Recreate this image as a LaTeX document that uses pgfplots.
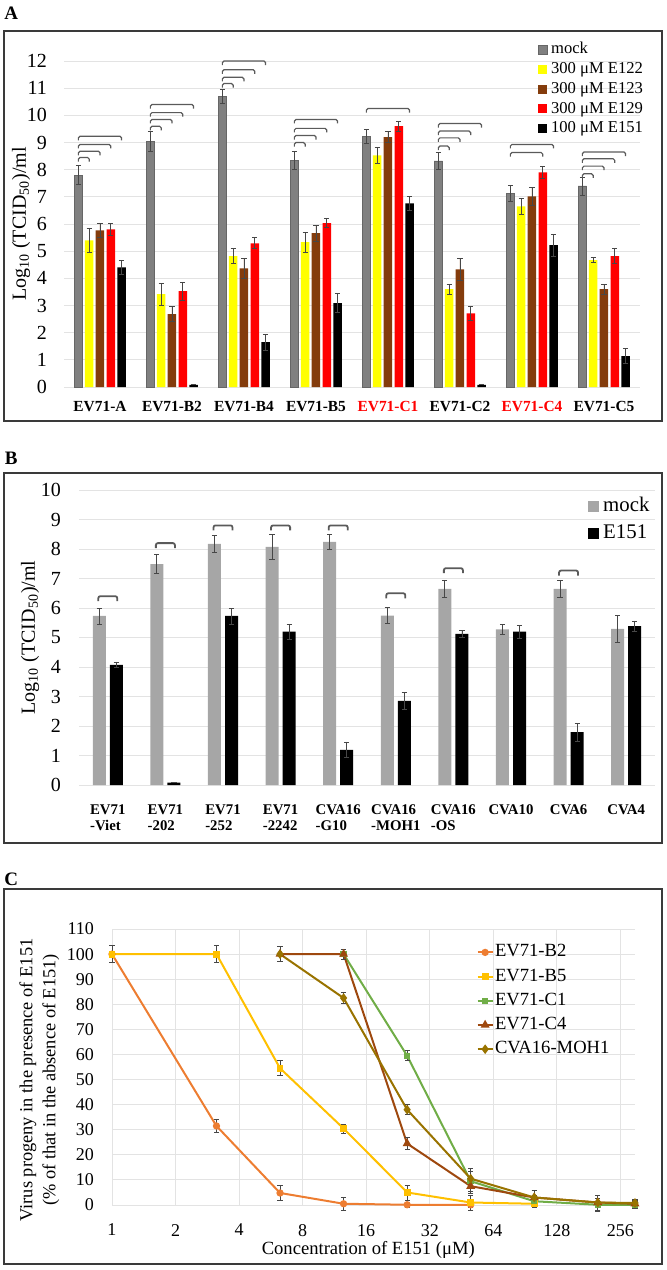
\documentclass[border=0pt]{standalone}
\usepackage{fontspec}
\setmainfont{Liberation Serif}
\usepackage{pgfplots}
\usepackage{pgfplotstable}
\pgfplotsset{compat=1.18}

\definecolor{gridc}{HTML}{E3E3E3}
\definecolor{framec}{HTML}{3A3A3A}
\definecolor{brkc}{HTML}{5A5A5A}
\definecolor{errc}{HTML}{474747}
\definecolor{mockA}{HTML}{808080}
\definecolor{yelA}{HTML}{FFFF00}
\definecolor{brnA}{HTML}{843C0C}
\definecolor{redA}{HTML}{FF0000}
\definecolor{mockB}{HTML}{A6A6A6}
\definecolor{cBtwo}{HTML}{ED7D31}
\definecolor{cBfive}{HTML}{FFC000}
\definecolor{cCone}{HTML}{70AD47}
\definecolor{cCfour}{HTML}{9E480E}
\definecolor{cMOH}{HTML}{997300}

% ---- panel A: x  y  err
\pgfplotstableread{
x y e
0 7.80 0.35
1 9.04 0.37
2 10.70 0.25
3 8.35 0.33
4 9.22 0.26
5 8.32 0.30
6 7.12 0.30
7 7.40 0.33
}\Amock
\pgfplotstableread{
x y e
0 5.40 0.45
1 3.42 0.40
2 4.82 0.28
3 5.33 0.36
4 8.53 0.30
5 3.60 0.18
6 6.65 0.30
7 4.67 0.10
}\Aonetwotwo
\pgfplotstableread{
x y e
0 5.77 0.27
1 2.68 0.27
2 4.37 0.37
3 5.66 0.30
4 9.20 0.20
5 4.33 0.40
6 7.02 0.33
7 3.60 0.18
}\Aonetwothree
\pgfplotstableread{
x y e
0 5.80 0.22
1 3.53 0.33
2 5.29 0.20
3 6.03 0.17
4 9.60 0.18
5 2.71 0.27
6 7.90 0.23
7 4.82 0.27
}\Aonetwonine
\pgfplotstableread{
x y e
0 4.40 0.27
1 0.08 0.00
2 1.65 0.30
3 3.09 0.36
4 6.76 0.26
5 0.08 0.00
6 5.22 0.40
7 1.14 0.27
}\Aonefiveone

% ---- panel B
\pgfplotstableread{
x y e
0 5.73 0.27
1 7.49 0.33
2 8.17 0.30
3 8.07 0.43
4 8.24 0.25
5 5.74 0.27
6 6.65 0.30
7 5.28 0.18
8 6.65 0.30
9 5.29 0.45
}\Bmock
\pgfplotstableread{
x y e
0 4.07 0.10
1 0.08 0.00
2 5.73 0.27
3 5.20 0.25
4 1.19 0.27
5 2.85 0.30
6 5.12 0.12
7 5.20 0.22
8 1.79 0.30
9 5.39 0.17
}\Bel

% ---- panel C: concentration, percent, err
\pgfplotstableread{
x y e
1 100 3.5
3.125 31.5 2.5
6.25 4.8 3
12.5 0.5 2.5
25 0.1 1
50 0.1 1
}\Ctwo
\pgfplotstableread{
x y e
1 100 3.5
3.125 100 3.5
6.25 54.5 3
12.5 30.5 1.8
25 5 3
50 1 3
100 0.5 0.5
}\Cfive
\pgfplotstableread{
x y e
12.5 100 2
25 59.5 2
50 9.5 4
100 1.5 2.5
200 0.1 2.5
300 0.1 1.5
}\Cone
\pgfplotstableread{
x y e
6.25 100 3
12.5 100 2
25 24.5 2.5
50 7.5 3
100 3 3
200 1 3
300 0.5 1.5
}\Cfour
\pgfplotstableread{
x y e
6.25 100 3
12.5 82.5 2.2
25 38 2
50 10.5 4
100 3 3
200 1 3
300 0.8 1.5
}\Cmoh

\pgfplotsset{
  panel/.style={scale only axis, clip=false, axis line style={draw=none},
    major tick length=0pt, ymajorgrids, grid style={gridc, line width=0.5pt},
    /pgf/number format/assume math mode=true, legend cell align=left},
  errs/.style={error bars/.cd, y dir=both, y explicit,
    error bar style={draw=errc, line width=0.4pt},
    error mark options={rotate=90, draw=errc, line width=0.4pt, mark size=1.3pt}},
  sqA/.style={legend image code/.code={\fill[##1] (0pt,-2.25pt) rectangle (4.5pt,2.25pt); \path (6.5pt,0pt);}},
  sqB/.style={legend image code/.code={\fill[##1] (0pt,-2.75pt) rectangle (5.5pt,2.75pt); \path (7.5pt,0pt);}},
  lnC/.style={legend image code/.code={\draw[mark repeat=2, mark phase=2, ##1] plot coordinates {(0pt,0pt) (3.75pt,0pt) (7.5pt,0pt)}; \path (8.2pt,0pt);}},
  brkA/.style={draw=brkc, line width=0.6pt, rounded corners=0.8pt, forget plot, mark=none},
  brkB/.style={draw=brkc, line width=0.9pt, rounded corners=1pt, forget plot, mark=none},
}

% bracket from the mock bar of group #1 to the bar at offset #2, at height #3
\newcommand\brA[3]{%
  \pgfmathsetmacro\bxa{#1-0.3}\pgfmathsetmacro\bxb{#1+#2}\pgfmathsetmacro\byl{#3-0.15}%
  \edef\brtmp{\noexpand\addplot[brkA] coordinates {(\bxa,\byl) (\bxa,#3) (\bxb,#3) (\bxb,\byl)};}\brtmp}
\newcommand\brB[2]{%
  \pgfmathsetmacro\bxa{#1-0.165}\pgfmathsetmacro\bxb{#1+0.165}\pgfmathsetmacro\byl{#2-0.17}%
  \edef\brtmp{\noexpand\addplot[brkB] coordinates {(\bxa,\byl) (\bxa,#2) (\bxb,#2) (\bxb,\byl)};}\brtmp}

\begin{document}
\begin{tikzpicture}
\path[use as bounding box] (0pt,0pt) rectangle (333pt,-635pt);

% frames and panel letters
\draw[framec, line width=0.75pt] (2pt,-15.5pt) rectangle (331pt,-210.5pt);
\draw[framec, line width=0.75pt] (2pt,-236.5pt) rectangle (331pt,-421.5pt);
\draw[framec, line width=0.75pt] (2pt,-444.5pt) rectangle (331pt,-632pt);
\node[font=\fontsize{9.5}{10}\selectfont\bfseries] at (5.6pt,-6.5pt) {A};
\node[font=\fontsize{9.5}{10}\selectfont\bfseries] at (5.6pt,-229pt) {B};
\node[font=\fontsize{9.5}{10}\selectfont\bfseries] at (5.6pt,-439.5pt) {C};

% ================= A
\begin{axis}[panel, at={(32pt,-193.5pt)}, anchor=south west, width=288pt, height=163pt,
  xmin=-0.5, xmax=7.5, ymin=0, ymax=12, ytick={0,...,12}, xtick={0,...,7},
  xticklabels={EV71-A, EV71-B2, EV71-B4, EV71-B5, \textcolor{red}{EV71-C1}, EV71-C2, \textcolor{red}{EV71-C4}, EV71-C5},
  xticklabel style={font=\fontsize{7.7}{9}\selectfont\bfseries, yshift=-3.4pt},
  yticklabel style={font=\fontsize{10}{12}\selectfont, xshift=-5pt},
  ylabel={Log\textsubscript{10} (TCID\textsubscript{50})/ml},
  every axis y label/.style={at={(axis description cs:-0.0747,0.5)}, rotate=90, anchor=center, font=\fontsize{10}{12}\selectfont},
  legend style={at={(0.811,1.072)}, anchor=north west, draw=none, fill=none,
    font=\fontsize{8.3}{8.3}\selectfont, row sep=2.05pt,
    nodes={inner sep=0pt, text height=6pt, text depth=1.8pt}},
]
\addplot[ybar, bar width=0.118, bar shift=0pt, fill=mockA, draw=mockA!80!black, line width=0.3pt, sqA, errs] table[x expr=\thisrow{x}-0.3, y=y, y error=e] {\Amock};
\addlegendentry{mock}
\addplot[ybar, bar width=0.118, bar shift=0pt, fill=yelA, draw=none, sqA, errs] table[x expr=\thisrow{x}-0.15, y=y, y error=e] {\Aonetwotwo};
\addlegendentry{300 μM E122}
\addplot[ybar, bar width=0.118, bar shift=0pt, fill=brnA, draw=none, sqA, errs] table[x expr=\thisrow{x}, y=y, y error=e] {\Aonetwothree};
\addlegendentry{300 μM E123}
\addplot[ybar, bar width=0.118, bar shift=0pt, fill=redA, draw=none, sqA, errs] table[x expr=\thisrow{x}+0.15, y=y, y error=e] {\Aonetwonine};
\addlegendentry{300 μM E129}
\addplot[ybar, bar width=0.118, bar shift=0pt, fill=black, draw=none, sqA, errs] table[x expr=\thisrow{x}+0.3, y=y, y error=e] {\Aonefiveone};
\addlegendentry{100 μM E151}
\brA{0}{-0.15}{8.45}\brA{0}{0}{8.68}\brA{0}{0.15}{8.93}\brA{0}{0.3}{9.23}
\brA{1}{-0.15}{9.6}\brA{1}{0}{9.85}\brA{1}{0.15}{10.1}\brA{1}{0.3}{10.4}
\brA{2}{-0.15}{11.17}\brA{2}{0}{11.4}\brA{2}{0.15}{11.68}\brA{2}{0.3}{12.0}
\brA{3}{-0.15}{9.0}\brA{3}{0}{9.26}\brA{3}{0.15}{9.52}\brA{3}{0.3}{9.85}
\brA{4}{0.3}{10.25}
\brA{5}{-0.15}{8.87}\brA{5}{0}{9.17}\brA{5}{0.15}{9.42}\brA{5}{0.3}{9.7}
\brA{6}{0.15}{8.63}\brA{6}{0.3}{8.93}
\brA{7}{-0.15}{7.85}\brA{7}{0}{8.13}\brA{7}{0.15}{8.4}\brA{7}{0.3}{8.65}
\end{axis}

% ================= B
\begin{axis}[panel, at={(39.5pt,-392.5pt)}, anchor=south west, width=288pt, height=147.5pt,
  xmin=-0.5, xmax=9.5, ymin=0, ymax=10, ytick={0,...,10}, xtick={0,...,9},
  xticklabels={EV71\\-Viet, EV71\\-202, EV71\\-252, EV71\\-2242, CVA16\\-G10, CVA16\\-MOH1, CVA16\\-OS, CVA10, CVA6, CVA4},
  xticklabel style={font=\fontsize{7.4}{8}\selectfont\bfseries, align=left, yshift=-6.2pt},
  yticklabel style={font=\fontsize{10}{12}\selectfont, xshift=-5.5pt},
  ylabel={Log\textsubscript{10} (TCID\textsubscript{50})/ml},
  every axis y label/.style={at={(axis description cs:-0.085,0.5)}, rotate=90, anchor=center, font=\fontsize{10}{12}\selectfont},
  legend style={at={(0.873,0.993)}, anchor=north west, draw=none, fill=none,
    font=\fontsize{10.4}{10.4}\selectfont, row sep=3.7pt,
    nodes={inner sep=0pt, text height=7.5pt, text depth=2.3pt}},
]
\addplot[ybar, bar width=0.226, bar shift=0pt, fill=mockB, draw=none, sqB, errs] table[x expr=\thisrow{x}-0.148, y=y, y error=e] {\Bmock};
\addlegendentry{mock}
\addplot[ybar, bar width=0.226, bar shift=0pt, fill=black, draw=none, sqB, errs] table[x expr=\thisrow{x}+0.148, y=y, y error=e] {\Bel};
\addlegendentry{E151}
\brB{0}{6.4}\brB{1}{8.2}\brB{2}{8.8}\brB{3}{8.8}\brB{4}{8.8}\brB{5}{6.5}\brB{6}{7.35}\brB{8}{7.27}
\end{axis}

% ================= C
\begin{axis}[panel, at={(56pt,-602.5pt)}, anchor=south west, width=261.5pt, height=138pt,
  xmode=log, log basis x=2, xmin=1, xmax=300, ymin=0, ymax=110,
  xmajorgrids, xtick={1,2,4,8,16,32,64,128,256}, xticklabels={1,2,4,8,16,32,64,128,256},
  ytick={0,10,...,110},
  xticklabel style={font=\fontsize{9}{10}\selectfont, yshift=-6pt},
  yticklabel style={font=\fontsize{9}{10}\selectfont, xshift=-5.5pt},
  xlabel={Concentration of E151 (μM)},
  every axis x label/.style={at={(axis description cs:0.49,-0.163)}, anchor=center, font=\fontsize{9.3}{10}\selectfont},
  ylabel={Virus progeny in the presence of E151\\(\% of that in the absence of E151)},
  every axis y label/.style={at={(axis description cs:-0.139,0.453)}, rotate=90, anchor=center, align=center, font=\fontsize{9.2}{11.5}\selectfont},
  legend style={at={(0.685,0.962)}, anchor=north west, draw=none, fill=none,
    font=\fontsize{9.3}{9.3}\selectfont, row sep=3.6pt,
    nodes={inner sep=0pt, text height=6.5pt, text depth=2pt}},
]
\addplot[cBtwo, line width=1pt, mark=*, mark size=1.3pt, lnC, errs] table[x=x, y=y, y error=e] {\Ctwo};
\addlegendentry{EV71-B2}
\addplot[cBfive, line width=1pt, mark=square*, mark size=1.2pt, lnC, errs] table[x=x, y=y, y error=e] {\Cfive};
\addlegendentry{EV71-B5}
\addplot[cCone, line width=1pt, mark=square*, mark size=1.1pt, lnC, errs] table[x=x, y=y, y error=e] {\Cone};
\addlegendentry{EV71-C1}
\addplot[cCfour, line width=1pt, mark=triangle*, mark size=1.6pt, lnC, errs] table[x=x, y=y, y error=e] {\Cfour};
\addlegendentry{EV71-C4}
\addplot[cMOH, line width=1pt, mark=diamond*, mark size=1.6pt, lnC, errs] table[x=x, y=y, y error=e] {\Cmoh};
\addlegendentry{CVA16-MOH1}
\end{axis}
\end{tikzpicture}
\end{document}
